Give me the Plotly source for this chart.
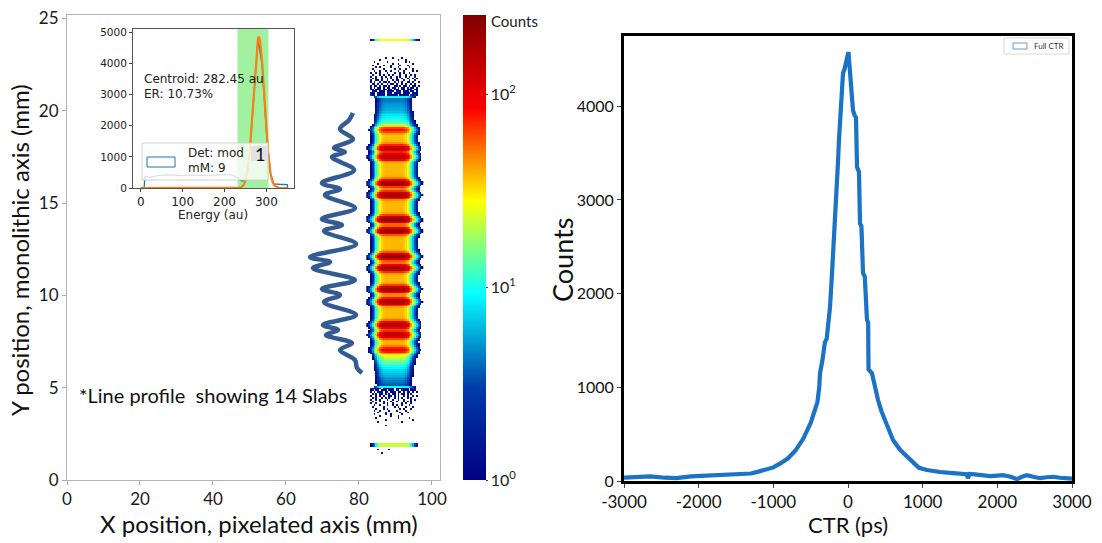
import numpy as np
import plotly.graph_objects as go

W, H = 1102, 543


def PX(x):
    return x / W


def PY(y):
    return 1 - y / H


# ---------------- data ----------------
# Left panel: flood map (counts per bin)
heat_x_mm = [82.25, 82.75, 83.25, 83.75, 84.25, 84.75, 85.25, 85.75, 86.25,
             86.75, 87.25, 87.75, 88.25, 88.75, 89.25, 89.75, 90.25, 90.75, 91.25, 91.75,
             92.25, 92.75, 93.25, 93.75, 94.25, 94.75, 95.25, 95.75, 96.25, 96.75, 97.25]
heat_x_weight = [0.008, 0.015, 0.03, 0.06, 0.13, 0.25, 0.45, 0.7, 0.88,
                 0.97, 1.0, 1.0, 1.0, 1.0, 1.0, 1.0, 1.0, 1.0, 1.0, 0.99,
                 0.95, 0.85, 0.68, 0.48, 0.3, 0.17, 0.09, 0.05, 0.025, 0.012, 0.006]
band_y_mm = [18.96, 17.97, 17.51, 16.07, 15.44, 14.12, 13.49, 12.10, 11.47, 10.33, 9.66, 8.40, 7.86, 7.04]
band_counts = [55, 110, 120, 165, 150, 180, 165, 190, 175, 150, 140, 130, 115, 60]
core_knot_y = [5.0, 5.5, 6.0, 6.4, 6.8, 7.3, 18.5, 19.1, 19.5, 20.0, 20.7]
core_knot_counts = [3, 5, 8, 14, 28, 38, 38, 22, 10, 6, 4]
line_y_mm = [1.90, 5.04, 20.75, 23.84]
line_counts = [22, 9, 9, 28]

# sparse outer regions: '#' = 1 count, '+' = 3 counts (rows listed top to bottom)
sparse_top_y0 = 22.85          # y of first row, rows step down by 0.1 mm
sparse_top = [
    "..........#...#....#...........",
    ".......#.........#...#.........",
    "....#......#.........#.#.......",
    "......#.......#..#.......#.....",
    "...#.....#...#....#...#........",
    ".....#.#.....#...#.....#.......",
    "...#.....#.....#..#..#...#.....",
    "....#..#..#..#...#..#....#.#...",
    "..#..#.#...#...#..#.#..#.......",
    "...#...#.#..#.#...#..#..#.#....",
    "..#..#..#.#..#..#.#..#.#..#....",
    "...#.#..#..#.#..#..#..#..#.#...",
    "..#..##.#..#..#.##..#..#..#....",
    "..#.#..#.##.#..#.#.#..##.#..#..",
    "...##.#.#..#.##.#..#.#..#.#....",
    "..#.##.#.##.#..##.#.##.#.##.#..",
    "..#.#.##.#.##.##.#.##.#.##.#...",
    "..##.###.##.##.###.##.###.##...",
    "...###.###.####.###.###.##.#...",
    "..###.####.###.####.####.###...",
    "..+##.####.######.#####.+#+#...",
]
sparse_bot_y0 = 4.95
sparse_bot = [
    "..+#####.######.#######.#+#....",
    "..##.##.###.###.##.####.###....",
    "..#.#.###.##.###.##.#.##.#.#...",
    "...#.#.##.#.#.##.#.##.#.#......",
    "..#..#.#.#..##.#.#..#.#..#.#...",
    "...#.#..#.#.#..#.#.#..#.#......",
    "..#..#.#...#..#..#..#...#.#....",
    "...#...#.#...#..#...#.#.#......",
    "..#..#...#.#..#....#.#..#......",
    "....#..#...#..#.#..#...#.......",
    "...#.....#.....#.#...#...#.....",
    ".....#...#.#......#.#...#......",
    "....#..#....#...#....#.........",
    "......#...#.......#...#........",
    "....#.....#..#.....#...........",
    ".......#.....#...#.............",
    ".....#...........#.....#.......",
    "..........#..............#.....",
    "......#............#...........",
    "...............................",
    "..........#....................",
]
sparse_low_y0 = 1.65
sparse_low = [
    "......#.....#..................",
    "...............................",
    "........#......................",
]
sparse_symbol_counts = {"#": 1.3, "+": 3.0}

# line profile drawn beside the flood map (x mm, y mm)
profile_x = [78.36, 77.26, 74.79, 78.36, 73.15, 76.16, 72.60, 78.63, 69.86, 74.79, 70.68,
             78.90, 69.86, 75.34, 70.41, 79.18, 66.58, 72.05, 67.40, 78.90, 69.86, 74.79,
             70.41, 79.18, 70.14, 74.25, 70.96, 78.08, 74.79, 78.90, 79.45, 80.82]
profile_y = [19.88, 19.50, 19.01, 18.47, 17.98, 17.77, 17.50, 16.79, 16.09, 15.76, 15.44,
             14.73, 14.14, 13.81, 13.49, 12.78, 12.08, 11.81, 11.48, 10.83, 10.35, 10.02,
             9.64, 8.94, 8.40, 8.13, 7.85, 7.42, 7.04, 6.50, 6.07, 5.80]

# inset: energy spectrum
hist_energy = [0, 8, 10, 20, 40, 60, 80, 100, 120, 140, 160, 180, 200, 220, 232, 240, 250, 260,
               270, 280, 290, 300, 310, 318, 330, 345, 350, 351]
hist_counts = [0, 0, 380, 340, 400, 420, 410, 400, 420, 405, 400, 420, 430, 410, 320, 230, 240,
               1100, 3100, 4750, 3950, 1800, 470, 130, 120, 110, 110, 0]
fit_energy = [0, 200, 235, 240, 245, 250, 255, 260, 265, 270, 275, 280, 282, 285, 290, 295,
              300, 305, 310, 315, 320, 330, 350]
fit_counts = [0, 0, 10, 25, 80, 225, 545, 1130, 2040, 3150, 4190, 4790, 4860, 4720, 4000,
              2900, 1830, 990, 460, 185, 64, 5, 0]
window_lo, window_hi = 231, 305

# right panel: CTR histogram
ctr_ps = [-3000, -2800, -2650, -2450, -2300, -2100, -1900, -1700, -1500, -1400, -1300, -1200,
          -1100, -1000, -900, -800, -700, -600, -500, -450, -410, -385, -375, -340, -310, -285,
          -241, -214, -187, -161, -140, -134, -121, -94, -67, -45, -13, 0,
          8, 20, 30, 50, 67, 90, 107, 121, 147, 161, 180, 201, 225, 254, 270, 272, 275, 321,
          360, 402, 450, 509, 560, 603, 700, 790, 870, 950, 1058, 1150, 1232, 1406, 1590,
          1605, 1630, 1700, 1800, 1902, 2000, 2076, 2180, 2263, 2330, 2397, 2480, 2571, 2660,
          2745, 2840, 2933, 3000]
ctr_counts = [35, 45, 50, 35, 30, 50, 55, 60, 65, 70, 80, 100,
              120, 145, 190, 245, 330, 450, 620, 730, 840, 1000, 1150, 1300, 1480, 1520,
              1856, 2219, 2571, 2923, 3350, 3400, 3637, 3989, 4352, 4400, 4544, 4560,
              4560, 4450, 4380, 4100, 3957, 3900, 3880, 3350, 3300, 2750, 2720, 2220, 2180,
              1720, 1690, 1450, 1190, 1150,
              1000, 864, 740, 619, 520, 437, 330, 256, 190, 140, 117, 105, 96, 85, 73,
              30, 75, 70, 60, 52, 58, 62, 45, 20, 45, 62, 45, 30, 40,
              45, 35, 25, 25]
ctr_ticks = [-3000, -2000, -1000, 0, 1000, 2000, 3000]
ctr_ticktext = ["-3000", "-2000", "-1000", "0", "1000", "2000", "3000"]

# ---------------- build flood map grid ----------------
y_rows = np.round(np.arange(1.25, 24.5, 0.1), 3)
xw = np.array(heat_x_weight)
base = np.interp(y_rows, core_knot_y, core_knot_counts, left=0, right=0)
for by, bc in zip(band_y_mm, band_counts):
    base = base + bc * np.exp(-0.5 * ((y_rows - by) / 0.12) ** 2)
counts = base[:, None] * xw[None, :]
for ly, lc in zip(line_y_mm, line_counts):
    sel = np.abs(y_rows - ly) < 0.06
    counts[sel, :] = np.maximum(counts[sel, :], lc * np.clip(xw * 1.6, 0, 1)[None, :])
for y0, pattern in ((sparse_top_y0, sparse_top), (sparse_bot_y0, sparse_bot),
                    (sparse_low_y0, sparse_low)):
    for k, row in enumerate(pattern):
        r = int(np.argmin(np.abs(y_rows - (y0 - 0.1 * k))))
        for c, ch in enumerate(row):
            if ch in sparse_symbol_counts and counts[r, c] < 1:
                counts[r, c] = sparse_symbol_counts[ch]
with np.errstate(divide="ignore"):
    zlog = np.where(counts >= 1, np.log10(np.maximum(counts, 1e-9)), np.nan)

ZMAX = 2.41
LATO = "Lato, 'Open Sans', sans-serif"
DJV = "DejaVu Sans, sans-serif"

fig = go.Figure()

fig.add_trace(go.Heatmap(
    x=heat_x_mm, y=y_rows, z=zlog, colorscale="Jet", zmin=0, zmax=ZMAX, hoverinfo="skip",
    xaxis="x", yaxis="y",
    colorbar=dict(thickness=23, thicknessmode="pixels", len=465 / H, lenmode="fraction",
                  x=PX(463), xanchor="left", y=PY(247.5), yanchor="middle", xpad=0, ypad=0,
                  tickvals=[0, 1, 2], ticktext=["10<sup>0</sup>", "10<sup>1</sup>", "10<sup>2</sup>"],
                  ticks="outside", ticklen=2, outlinewidth=0,
                  tickfont=dict(family=LATO, size=16, color="#222"))))

fig.add_trace(go.Scatter(x=profile_x, y=profile_y, mode="lines",
                         line=dict(color="#335b92", width=4.5, shape="spline", smoothing=1.0),
                         hoverinfo="skip", xaxis="x", yaxis="y", showlegend=False))

# inset: energy window band, histogram and fit
fig.add_trace(go.Scatter(x=[window_lo, window_hi, window_hi, window_lo, window_lo],
                         y=[0, 0, 5100, 5100, 0], mode="lines", fill="toself",
                         fillcolor="rgba(144,238,144,0.85)", line=dict(width=0),
                         hoverinfo="skip", xaxis="x3", yaxis="y3", showlegend=False))
fig.add_trace(go.Scatter(x=hist_energy, y=hist_counts, mode="lines",
                         line=dict(color="#1f77b4", width=1.3), hoverinfo="skip",
                         xaxis="x3", yaxis="y3", showlegend=False))
fig.add_trace(go.Scatter(x=fit_energy, y=fit_counts, mode="lines",
                         line=dict(color="#ff7f0e", width=2.2), hoverinfo="skip",
                         xaxis="x3", yaxis="y3", showlegend=False))

# right
fig.add_trace(go.Scatter(x=ctr_ps, y=ctr_counts, mode="lines",
                         line=dict(color="#1a73c6", width=4.2), hoverinfo="skip",
                         xaxis="x2", yaxis="y2", showlegend=False))

shapes = [
    # inset legend box
    dict(type="rect", xref="paper", yref="paper", x0=PX(142), x1=PX(268), y0=PY(180), y1=PY(143),
         fillcolor="rgba(255,255,255,0.8)", line=dict(color="#d0d0d0", width=1), layer="above"),
    dict(type="rect", xref="paper", yref="paper", x0=PX(147), x1=PX(175), y0=PY(167), y1=PY(157),
         fillcolor="rgba(0,0,0,0)", line=dict(color="#1f77b4", width=1), layer="above"),
    dict(type="rect", xref="paper", yref="paper", x0=PX(251), x1=PX(268), y0=PY(161), y1=PY(146),
         fillcolor="#e2e2e2", line=dict(width=0), layer="above"),
    # right legend
    dict(type="rect", xref="paper", yref="paper", x0=PX(1004), x1=PX(1069), y0=PY(54), y1=PY(38),
         fillcolor="white", line=dict(color="#d8d8d8", width=1), layer="above"),
    dict(type="rect", xref="paper", yref="paper", x0=PX(1013), x1=PX(1027), y0=PY(49), y1=PY(43),
         fillcolor="rgba(0,0,0,0)", line=dict(color="#6a9bd0", width=1), layer="above"),
]

annotations = [
    dict(text="Y position, monolithic axis (mm)", x=PX(20), y=PY(250), textangle=-90,
         font=dict(family=LATO, size=24, color="#111")),
    dict(text="X position, pixelated axis (mm)", x=PX(259), y=PY(523),
         font=dict(family=LATO, size=24, color="#111")),
    dict(text="Counts", x=PX(562), y=PY(260), textangle=-90,
         font=dict(family=LATO, size=27, color="#111")),
    dict(text="CTR (ps)", x=PX(848), y=PY(524), font=dict(family=LATO, size=22, color="#111")),
    dict(text="Counts", x=PX(489), y=PY(21), xanchor="left",
         font=dict(family=LATO, size=15, color="#222")),
    dict(text="*Line profile\u00a0 showing 14 Slabs", x=PX(77), y=PY(395), xanchor="left",
         font=dict(family=LATO, size=20, color="#111")),
    dict(text="Centroid: 282.45 au", x=PX(142), y=PY(79), xanchor="left",
         font=dict(family=DJV, size=12, color="#222")),
    dict(text="ER: 10.73%", x=PX(142), y=PY(94), xanchor="left",
         font=dict(family=DJV, size=12, color="#222")),
    dict(text="Det: mod", x=PX(186), y=PY(153), xanchor="left",
         font=dict(family=DJV, size=12, color="#222")),
    dict(text="mM: 9", x=PX(186), y=PY(168), xanchor="left",
         font=dict(family=DJV, size=12, color="#222")),
    dict(text="1", x=PX(259.5), y=PY(154), font=dict(family=LATO, size=18, color="#111")),
    dict(text="Energy (au)", x=PX(213), y=PY(215), font=dict(family=DJV, size=12, color="#222")),
    dict(text="Full CTR", x=PX(1032), y=PY(46), xanchor="left",
         font=dict(family=LATO, size=8, color="#333")),
]
for a in annotations:
    a.update(xref="paper", yref="paper", showarrow=False)
    a.setdefault("xanchor", "center")
    a.setdefault("yanchor", "middle")

fig.update_layout(
    width=W, height=H, autosize=False,
    margin=dict(l=0, r=0, t=0, b=0, pad=0, autoexpand=False),
    paper_bgcolor="white", plot_bgcolor="white", showlegend=False,
    shapes=shapes, annotations=annotations,
    xaxis=dict(domain=[PX(67), PX(440)], range=[0, 102.2], anchor="y",
               tickvals=[0, 20, 40, 60, 80, 100], ticks="outside", ticklen=4, tickcolor="#aaa",
               showline=True, mirror=True, linecolor="#b4b4b4", linewidth=1,
               showgrid=False, zeroline=False,
               tickfont=dict(family=LATO, size=17, color="#1a1a1a")),
    yaxis=dict(domain=[PY(480), PY(15)], range=[0, 25.19], anchor="x",
               tickvals=[0, 5, 10, 15, 20, 25], ticks="outside", ticklen=4, tickcolor="#aaa",
               showline=True, mirror=True, linecolor="#b4b4b4", linewidth=1,
               showgrid=False, zeroline=False,
               tickfont=dict(family=LATO, size=17, color="#1a1a1a")),
    xaxis2=dict(domain=[PX(624), PX(1072)], range=[-3000, 3000], anchor="y2",
                tickvals=ctr_ticks, ticktext=ctr_ticktext, ticks="outside", ticklen=4,
                showline=True, mirror=True, linecolor="black", linewidth=3,
                showgrid=False, zeroline=False,
                tickfont=dict(family=LATO, size=17, color="#111")),
    yaxis2=dict(domain=[PY(481), PY(36)], range=[0, 4750], anchor="x2",
                tickvals=[0, 1000, 2000, 3000, 4000], ticks="outside", ticklen=4,
                showline=True, mirror=True, linecolor="black", linewidth=3,
                showgrid=False, zeroline=False,
                tickfont=dict(family=LATO, size=16, color="#111")),
    xaxis3=dict(domain=[PX(133), PX(294)], range=[-18.5, 366], anchor="y3",
                tickvals=[0, 100, 200, 300], ticks="outside", ticklen=3, tickcolor="#444",
                showline=True, mirror=True, linecolor="#555", linewidth=1,
                showgrid=False, zeroline=False,
                tickfont=dict(family=DJV, size=12, color="#222")),
    yaxis3=dict(domain=[PY(188), PY(29)], range=[0, 5100], anchor="x3",
                tickvals=[0, 1000, 2000, 3000, 4000, 5000], ticks="outside", ticklen=3,
                tickcolor="#444", showline=True, mirror=True, linecolor="#555", linewidth=1,
                showgrid=False, zeroline=False,
                tickfont=dict(family=DJV, size=10.5, color="#222")),
)

fig.write_html("out.html", config={"displayModeBar": False},
               post_script="document.body.style.margin='0';document.body.style.overflow='hidden';")
